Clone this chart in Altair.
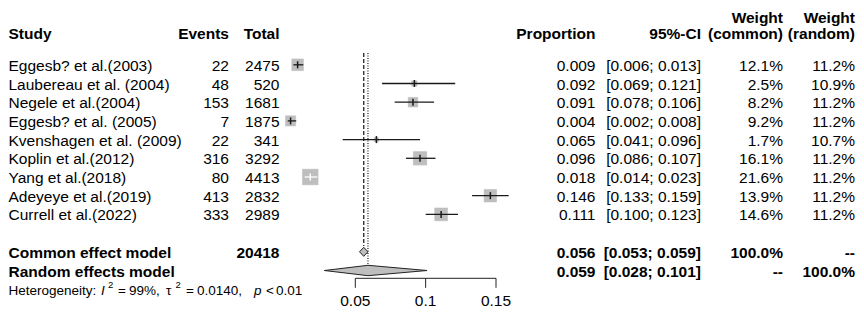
import altair as alt
import pandas as pd

# ---------------- data ----------------
studies = ["Eggesb? et al.(2003)", "Laubereau et al. (2004)", "Negele et al.(2004)",
           "Eggesb? et al. (2005)", "Kvenshagen et al. (2009)", "Koplin et al.(2012)",
           "Yang et al.(2018)", "Adeyeye et al.(2019)", "Currell et al.(2022)"]
events = [22, 48, 153, 7, 22, 316, 80, 413, 333]
totals = [2475, 520, 1681, 1875, 341, 3292, 4413, 2832, 2989]
proportion = [0.009, 0.092, 0.091, 0.004, 0.065, 0.096, 0.018, 0.146, 0.111]
ci_lower = [0.006, 0.069, 0.078, 0.002, 0.041, 0.086, 0.014, 0.133, 0.100]
ci_upper = [0.013, 0.121, 0.106, 0.008, 0.096, 0.107, 0.023, 0.159, 0.123]
weight_common = [12.1, 2.5, 8.2, 9.2, 1.7, 16.1, 21.6, 13.9, 14.6]
weight_random = [11.2, 10.9, 11.2, 11.2, 10.7, 11.2, 11.2, 11.2, 11.2]

model_names = ["Common effect model", "Random effects model"]
model_total = ["20418", ""]
model_est = [0.056, 0.059]
model_lower = [0.053, 0.028]
model_upper = [0.059, 0.101]
model_w_common = ["100.0%", "--"]
model_w_random = ["--", "100.0%"]

het_I2 = "99%,"
het_tau2 = "0.0140,"
het_p = "0.01"

axis_ticks = [0.05, 0.10, 0.15]
axis_labels = ["0.05", "0.1", "0.15"]

# ---------------- layout / style ----------------
FONT = "Liberation Sans"
FS = 15.5
W, H = 848, 302
PX_PER_UNIT = 1407.0
X0 = 276.95  # pixel of proportion 0
xs = alt.Scale(domain=[-X0 / PX_PER_UNIT, (W - X0) / PX_PER_UNIT], nice=False, zero=False)
ROW_PX = 18.7
ROW0 = 56.8
ys = alt.Scale(domain=[-ROW0 / ROW_PX, (H - ROW0) / ROW_PX], nice=False, zero=False, reverse=True)
SQ_GREY = "#BEBEBE"
LINE = "#1a1a1a"
inside_white = {"Yang et al.(2018)"}


def X(f):
    return alt.X(f, type="quantitative", scale=xs, axis=None)


def Y(f):
    return alt.Y(f, type="quantitative", scale=ys, axis=None, stack=None)


def px_row(y_c):
    return (y_c - ROW0) / ROW_PX


n = len(studies)
sdf = pd.DataFrame({
    "study": studies,
    "row": list(range(n)),
    "prop": proportion,
    "lo": ci_lower,
    "hi": ci_upper,
    "events_t": [str(e) for e in events],
    "total_t": [str(t) for t in totals],
    "prop_t": [f"{p:.3f}" for p in proportion],
    "ci_t": [f"[{l:.3f}; {h:.3f}]" for l, h in zip(ci_lower, ci_upper)],
    "wc_t": [f"{w:.1f}%" for w in weight_common],
    "wr_t": [f"{w:.1f}%" for w in weight_random],
    "size": [11.4 * w for w in weight_common],
    "lc": ["white" if s in inside_white else LINE for s in studies],
})
sdf["rt"] = sdf["row"] - 3.5 / ROW_PX
sdf["rb"] = sdf["row"] + 3.5 / ROW_PX

mrow = [n + 1, n + 2]
mdf = pd.DataFrame({
    "study": model_names,
    "row": mrow,
    "events_t": ["", ""],
    "total_t": model_total,
    "prop_t": [f"{p:.3f}" for p in model_est],
    "ci_t": [f"[{l:.3f}; {h:.3f}]" for l, h in zip(model_lower, model_upper)],
    "wc_t": model_w_common,
    "wr_t": model_w_random,
})

layers = []

# reference lines (common dashed, random dotted)
ref_df = pd.DataFrame({"x": model_est, "top": [-0.63, -0.63],
                       "bot": [mrow[0] - 0.31, mrow[1] - 0.29]})
layers.append(alt.Chart(ref_df.iloc[[0]]).mark_rule(color="#222", strokeWidth=1.3, strokeDash=[4, 2])
              .encode(x=X("x"), y=Y("top"), y2="bot"))
layers.append(alt.Chart(ref_df.iloc[[1]]).mark_rule(color="#222", strokeWidth=1.2, strokeDash=[1, 1.5])
              .encode(x=X("x"), y=Y("top"), y2="bot"))

# squares
layers.append(alt.Chart(sdf).mark_square(color=SQ_GREY, opacity=1, stroke=SQ_GREY, strokeWidth=0.5)
              .encode(x=X("prop"), y=Y("row"), size=alt.Size("size:Q", scale=None)))
# CI lines
layers.append(alt.Chart(sdf).mark_rule(strokeWidth=1.3)
              .encode(x=X("lo"), x2="hi", y=Y("row"), color=alt.Color("lc:N", scale=None)))
# point estimate ticks
layers.append(alt.Chart(sdf).mark_rule(strokeWidth=1.5)
              .encode(x=X("prop"), y=Y("rt"), y2="rb", color=alt.Color("lc:N", scale=None)))

# diamonds
drows = []
for name, r, est, lo, hi, hh in zip(model_names, mrow, model_est, model_lower, model_upper, [4.5, 5.2]):
    h = hh / ROW_PX
    drows += [{"m": name, "x": lo, "y": r, "y2": r},
              {"m": name, "x": est, "y": r - h, "y2": r + h},
              {"m": name, "x": hi, "y": r, "y2": r}]
ddf = pd.DataFrame(drows)
layers.append(alt.Chart(ddf).mark_area(color=SQ_GREY, stroke="#222", strokeWidth=1, opacity=1,
                                       orient="vertical", interpolate="linear")
              .encode(x=X("x"), y=Y("y"), y2="y2", detail="m:N"))

# axis
AX_ROW = px_row(278.3 - 8)
adf = pd.DataFrame({"x": [axis_ticks[0]], "x2": [axis_ticks[-1]], "r": [AX_ROW]})
layers.append(alt.Chart(adf).mark_rule(color="#222", strokeWidth=1).encode(x=X("x"), x2="x2", y=Y("r")))
tdf = pd.DataFrame({"t": axis_ticks, "lab": axis_labels, "r": AX_ROW, "r2": AX_ROW + 9.5 / ROW_PX,
                    "rl": px_row(298.3)})
layers.append(alt.Chart(tdf).mark_rule(color="#222", strokeWidth=1).encode(x=X("t"), y=Y("r"), y2="r2"))
layers.append(alt.Chart(tdf).mark_text(font=FONT, fontSize=FS, baseline="alphabetic", align="center",
                                       color="black")
              .encode(x=X("t"), y=Y("rl"), text="lab:N"))


# text columns
def col_text(df, field, xpx, align, weight="normal"):
    return (alt.Chart(df).mark_text(font=FONT, fontSize=FS, fontWeight=weight, align=align,
                                    baseline="middle", color="black", dy=1)
            .encode(x=alt.value(xpx), y=Y("row"), text=f"{field}:N"))


cols = [("study", 0.5, "left"), ("events_t", 221, "right"), ("total_t", 271.5, "right"),
        ("prop_t", 587.5, "right"), ("ci_t", 693, "right"), ("wc_t", 775, "right"),
        ("wr_t", 847, "right")]
for f, xp, al in cols:
    layers.append(col_text(sdf, f, xp, al))
    layers.append(col_text(mdf, f, xp, al, "bold"))

# headers
H1 = px_row(8.5)
H2 = px_row(24.5)
hdr = [("Study", 0.5, "left", H2), ("Events", 221, "right", H2), ("Total", 271.5, "right", H2),
       ("Proportion", 587.5, "right", H2), ("95%-CI", 693, "right", H2),
       ("Weight", 775, "right", H1), ("(common)", 775, "right", H2),
       ("Weight", 847, "right", H1), ("(random)", 847, "right", H2)]
for txt, xp, al, r in hdr:
    layers.append(alt.Chart(pd.DataFrame({"t": [txt], "row": [r]}))
                  .mark_text(font=FONT, fontSize=FS, fontWeight="bold", align=al, baseline="middle",
                             color="black", dy=1)
                  .encode(x=alt.value(xp), y=Y("row"), text="t:N"))

# heterogeneity line
HET_ROW = n + 3.02
het_pieces = [("Heterogeneity:", 0.5, "normal", 13.5, 0),
              ("I", 93, "italic", 13.5, 0),
              ("2", 100, "normal", 9.5, -6),
              ("=", 110, "normal", 13.5, 0),
              (het_I2, 121, "normal", 13.5, 0),
              ("\u03c4", 158, "normal", 13.5, 0),
              ("2", 167.5, "normal", 9.5, -6),
              ("=", 178, "normal", 13.5, 0),
              (het_tau2, 189, "normal", 13.5, 0),
              ("p", 246, "italic", 13.5, 0),
              ("<", 258, "normal", 13.5, 0),
              (het_p, 268, "normal", 13.5, 0)]
for txt, xp, st, fs, dy in het_pieces:
    layers.append(alt.Chart(pd.DataFrame({"t": [txt], "row": [HET_ROW]}))
                  .mark_text(font=FONT, fontSize=fs, fontStyle=st, align="left", baseline="middle",
                             color="black", dy=dy + 1)
                  .encode(x=alt.value(xp), y=Y("row"), text="t:N"))

chart = (alt.layer(*layers)
         .properties(width=W, height=H, autosize=alt.AutoSizeParams(type="none"), padding=0,
                     background="white")
         .configure_view(stroke=None))

chart.save("out.html", embed_options={"renderer": "svg", "actions": False})
